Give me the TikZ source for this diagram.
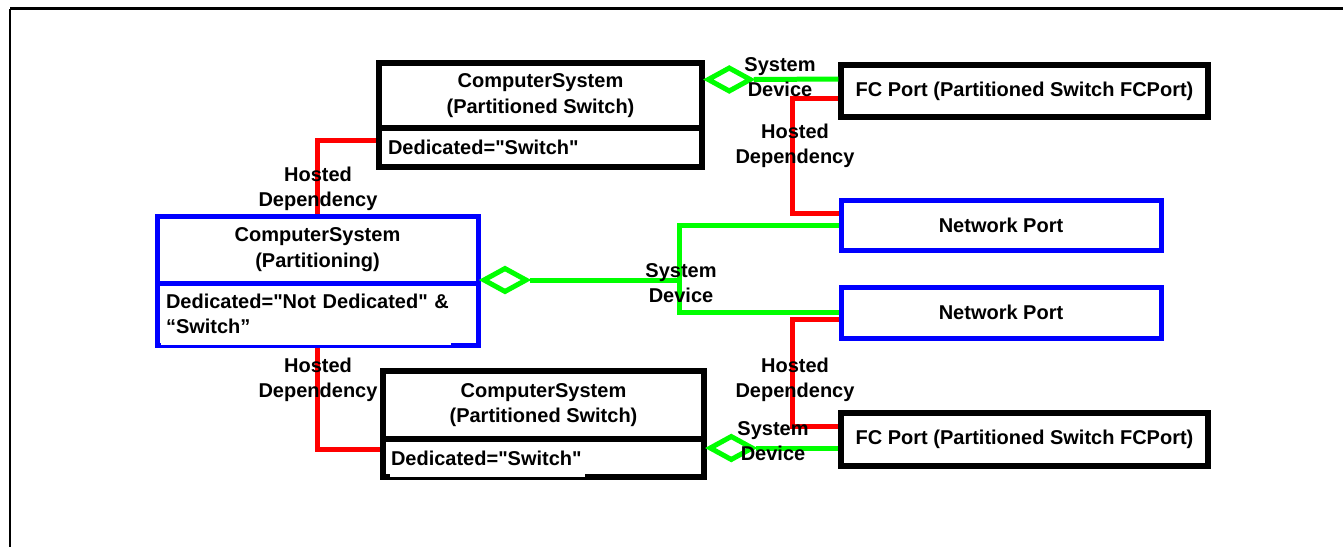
\documentclass[tikz,border=0pt]{standalone}
\usepackage{fontspec}
\newfontfamily\lsans{Liberation Sans}
\usetikzlibrary{shapes.geometric}
\begin{document}
\begin{tikzpicture}[x=1pt,y=-1pt,
  every node/.style={font=\lsans\bfseries\fontsize{20}{25.5}\selectfont, inner sep=0pt},
  bx/.style={draw=black, line width=5.5pt},
  bl/.style={draw=blue, line width=5pt},
  hd/.style={draw=red, line width=5pt},
  sd/.style={draw=green, line width=5pt},
  dia/.style={diamond, draw=green, line width=5pt, fill=white, minimum width=44pt, minimum height=25pt},
  lbl/.style={align=center}]
\useasboundingbox (0,0) rectangle (1343,547);
\draw[line width=3.5pt] (10,8.5) -- (1343,8.5);
\draw[line width=2.5pt] (10,8.5) -- (10,547);

% top computer system
\node[bx, minimum width=323pt, minimum height=65pt, align=center] (csAtop) at (540.5,95.5) {ComputerSystem\\(Partitioned Switch)};
\node[bx, minimum width=323pt, minimum height=39pt, text width=305pt, align=left] (csAbot) at (540.5,147.5) {Dedicated="Switch"};

% partitioning
\node[bl, minimum width=321pt, minimum height=67pt, align=center] (parttop) at (317.5,249.5) {ComputerSystem\\(Partitioning)};
\node[bl, minimum width=321pt, minimum height=62pt, text width=303pt, align=left] (partbot) at (317.5,314) {Dedicated="Not Dedicated" \&\\“Switch”};
\fill[white] (161,342.4) rectangle (451,345.2);

% bottom computer system
\node[bx, minimum width=321pt, minimum height=68pt, align=center] (csBtop) at (543.5,405) {ComputerSystem\\(Partitioned Switch)};
\node[bx, minimum width=321pt, minimum height=38pt, text width=305pt, align=left] (csBbot) at (543.5,458) {Dedicated="Switch"};
\fill[white] (390,474.2) rectangle (585,477.2);

% ports
\node[bx, minimum width=367pt, minimum height=52pt] (fcA) at (1024.5,91) {FC Port (Partitioned Switch FCPort)};
\node[bl, minimum width=320pt, minimum height=50pt] (np1) at (1001,225) {Network Port};
\node[bl, minimum width=320pt, minimum height=51pt] (np2) at (1001,312.5) {Network Port};
\node[bx, minimum width=367pt, minimum height=53pt] (fcB) at (1024.5,439.5) {FC Port (Partitioned Switch FCPort)};

% hosted dependency connectors
\draw[hd] ([yshift=7pt]csAbot.west) -| (parttop.north);
\draw[hd] (partbot.south) |- ([yshift=9pt]csBbot.west);
\draw[hd] ([yshift=-7pt]fcA.west) -- ++(-46,0) |- ([yshift=12pt]np1.west);
\draw[hd] ([yshift=-7pt]np2.west) -- ++(-46,0) |- ([yshift=13.5pt]fcB.west);

% system device connectors
\node[dia, anchor=west] (dP) at ([yshift=5.5pt]parttop.south east) {};
\coordinate (jx) at (679,0);
\coordinate (j) at (dP.east -| jx);
\draw[sd] (dP.east) -- (j);
\draw[sd] (np1.west) -| (j) |- (np2.west);
\node[dia, anchor=west] (dA) at ([yshift=16pt]csAtop.east) {};
\draw[sd] (dA.east) -- ([yshift=12pt]fcA.west);
\node[dia, anchor=west] (dB) at ([yshift=10pt]csBbot.east) {};
\draw[sd] (dB.east) -- ([yshift=-8.5pt]fcB.west);

% labels
\node[lbl] (l1) at (318,189) {Hosted\\Dependency};
\node[lbl] (l2) at (318,380) {Hosted\\Dependency};
\node[lbl] (l3) at (795,146) {Hosted\\Dependency};
\node[lbl] (l4) at (795,380) {Hosted\\Dependency};
\node[lbl] (l5) at (780,77) {System\\Device};
\node[lbl] (l6) at (681,283) {System\\Device};
\node[lbl] (l7) at (773,441) {System\\Device};
\end{tikzpicture}
\end{document}
